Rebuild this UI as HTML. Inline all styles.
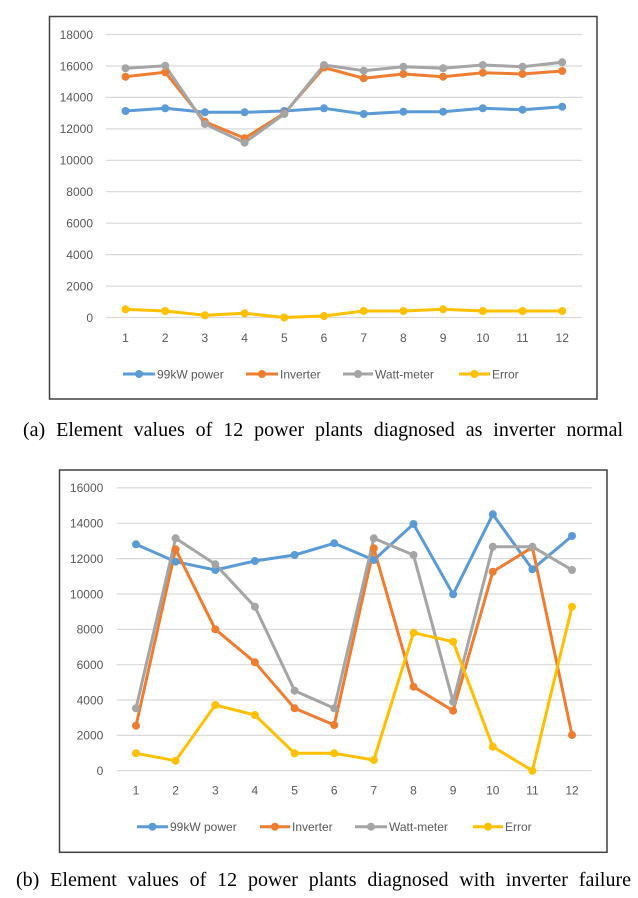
<!DOCTYPE html>
<html><head><meta charset="utf-8">
<style>
html,body{margin:0;padding:0;background:#fff;}
body{width:638px;height:898px;position:relative;overflow:hidden;}
svg{position:absolute;left:0;top:0;}
.cap{position:absolute;font-family:"Liberation Serif",serif;font-size:20px;color:#000;text-align:justify;text-align-last:justify;white-space:nowrap;line-height:22px;}
</style></head>
<body>
<svg width="638" height="898" viewBox="0 0 638 898" xmlns="http://www.w3.org/2000/svg">
<!-- Chart (a) -->
<rect x="49.5" y="16.5" width="547.5" height="382.5" fill="#fff" stroke="#404040" stroke-width="1.5"/>
<g stroke="#d9d9d9" stroke-width="1.2">
<line x1="106" x2="582" y1="317.5" y2="317.5"/>
<line x1="106" x2="582" y1="286.1" y2="286.1"/>
<line x1="106" x2="582" y1="254.6" y2="254.6"/>
<line x1="106" x2="582" y1="223.2" y2="223.2"/>
<line x1="106" x2="582" y1="191.7" y2="191.7"/>
<line x1="106" x2="582" y1="160.3" y2="160.3"/>
<line x1="106" x2="582" y1="128.9" y2="128.9"/>
<line x1="106" x2="582" y1="97.4" y2="97.4"/>
<line x1="106" x2="582" y1="66" y2="66"/>
<line x1="106" x2="582" y1="34.5" y2="34.5"/>
</g>
<g font-family="Liberation Sans, sans-serif" font-size="12" fill="#595959" text-anchor="end">
<text x="93" y="321.8">0</text>
<text x="93" y="290.4">2000</text>
<text x="93" y="258.9">4000</text>
<text x="93" y="227.5">6000</text>
<text x="93" y="196">8000</text>
<text x="93" y="164.6">10000</text>
<text x="93" y="133.2">12000</text>
<text x="93" y="101.7">14000</text>
<text x="93" y="70.3">16000</text>
<text x="93" y="38.8">18000</text>
</g>
<g font-family="Liberation Sans, sans-serif" font-size="12" fill="#595959" text-anchor="middle">
<text x="125.5" y="342">1</text><text x="165.2" y="342">2</text><text x="204.9" y="342">3</text><text x="244.6" y="342">4</text><text x="284.3" y="342">5</text><text x="324" y="342">6</text><text x="363.7" y="342">7</text><text x="403.4" y="342">8</text><text x="443.1" y="342">9</text><text x="482.8" y="342">10</text><text x="522.5" y="342">11</text><text x="562.2" y="342">12</text>
</g>
<g fill="none" stroke-width="3" stroke-linejoin="round">
<polyline stroke="#5B9BD5" points="125.5,111 165.2,108.3 204.9,112.3 244.6,112.3 284.3,111 324,108.3 363.7,114 403.4,111.7 443.1,111.7 482.8,108.3 522.5,109.7 562.2,106.7"/>
<polyline stroke="#ED7D31" points="125.5,76.7 165.2,72.3 204.9,121.7 244.6,138.3 284.3,113.3 324,67.5 363.7,78.3 403.4,74 443.1,76.7 482.8,72.7 522.5,74 562.2,71"/>
<polyline stroke="#A5A5A5" points="125.5,68.3 165.2,65.7 204.9,124 244.6,142.7 284.3,114 324,65 363.7,70.7 403.4,66.7 443.1,68.3 482.8,65 522.5,66.7 562.2,62.3"/>
<polyline stroke="#FFC000" points="125.5,309.3 165.2,311 204.9,315.3 244.6,313.3 284.3,317.5 324,316 363.7,311 403.4,311 443.1,309.3 482.8,311 522.5,311 562.2,311"/>
</g>
<g fill="#5B9BD5"><circle cx="125.5" cy="111" r="4"/><circle cx="165.2" cy="108.3" r="4"/><circle cx="204.9" cy="112.3" r="4"/><circle cx="244.6" cy="112.3" r="4"/><circle cx="284.3" cy="111" r="4"/><circle cx="324" cy="108.3" r="4"/><circle cx="363.7" cy="114" r="4"/><circle cx="403.4" cy="111.7" r="4"/><circle cx="443.1" cy="111.7" r="4"/><circle cx="482.8" cy="108.3" r="4"/><circle cx="522.5" cy="109.7" r="4"/><circle cx="562.2" cy="106.7" r="4"/></g>
<g fill="#ED7D31"><circle cx="125.5" cy="76.7" r="4"/><circle cx="165.2" cy="72.3" r="4"/><circle cx="204.9" cy="121.7" r="4"/><circle cx="244.6" cy="138.3" r="4"/><circle cx="284.3" cy="113.3" r="4"/><circle cx="324" cy="67.5" r="4"/><circle cx="363.7" cy="78.3" r="4"/><circle cx="403.4" cy="74" r="4"/><circle cx="443.1" cy="76.7" r="4"/><circle cx="482.8" cy="72.7" r="4"/><circle cx="522.5" cy="74" r="4"/><circle cx="562.2" cy="71" r="4"/></g>
<g fill="#A5A5A5"><circle cx="125.5" cy="68.3" r="4"/><circle cx="165.2" cy="65.7" r="4"/><circle cx="204.9" cy="124" r="4"/><circle cx="244.6" cy="142.7" r="4"/><circle cx="284.3" cy="114" r="4"/><circle cx="324" cy="65" r="4"/><circle cx="363.7" cy="70.7" r="4"/><circle cx="403.4" cy="66.7" r="4"/><circle cx="443.1" cy="68.3" r="4"/><circle cx="482.8" cy="65" r="4"/><circle cx="522.5" cy="66.7" r="4"/><circle cx="562.2" cy="62.3" r="4"/></g>
<g fill="#FFC000"><circle cx="125.5" cy="309.3" r="4"/><circle cx="165.2" cy="311" r="4"/><circle cx="204.9" cy="315.3" r="4"/><circle cx="244.6" cy="313.3" r="4"/><circle cx="284.3" cy="317.5" r="4"/><circle cx="324" cy="316" r="4"/><circle cx="363.7" cy="311" r="4"/><circle cx="403.4" cy="311" r="4"/><circle cx="443.1" cy="309.3" r="4"/><circle cx="482.8" cy="311" r="4"/><circle cx="522.5" cy="311" r="4"/><circle cx="562.2" cy="311" r="4"/></g>
<!-- legend a -->
<g stroke-width="3">
<line x1="123" x2="155" y1="374" y2="374" stroke="#5B9BD5"/>
<line x1="246" x2="278" y1="374" y2="374" stroke="#ED7D31"/>
<line x1="343" x2="373" y1="374" y2="374" stroke="#A5A5A5"/>
<line x1="459" x2="490" y1="374" y2="374" stroke="#FFC000"/>
</g>
<circle cx="139" cy="374" r="4" fill="#5B9BD5"/>
<circle cx="262" cy="374" r="4" fill="#ED7D31"/>
<circle cx="358" cy="374" r="4" fill="#A5A5A5"/>
<circle cx="474.5" cy="374" r="4" fill="#FFC000"/>
<g font-family="Liberation Sans, sans-serif" font-size="12" fill="#595959">
<text x="157" y="378.3">99kW power</text>
<text x="280" y="378.3">Inverter</text>
<text x="375" y="378.3">Watt-meter</text>
<text x="492" y="378.3">Error</text>
</g>

<!-- Chart (b) -->
<rect x="59.5" y="470" width="547.5" height="382.3" fill="#fff" stroke="#404040" stroke-width="1.5"/>
<g stroke="#d9d9d9" stroke-width="1.2">
<line x1="116.7" x2="591.7" y1="770.7" y2="770.7"/>
<line x1="116.7" x2="591.7" y1="735.4" y2="735.4"/>
<line x1="116.7" x2="591.7" y1="700" y2="700"/>
<line x1="116.7" x2="591.7" y1="664.7" y2="664.7"/>
<line x1="116.7" x2="591.7" y1="629.3" y2="629.3"/>
<line x1="116.7" x2="591.7" y1="594" y2="594"/>
<line x1="116.7" x2="591.7" y1="558.6" y2="558.6"/>
<line x1="116.7" x2="591.7" y1="523.3" y2="523.3"/>
<line x1="116.7" x2="591.7" y1="487.9" y2="487.9"/>
</g>
<g font-family="Liberation Sans, sans-serif" font-size="12" fill="#595959" text-anchor="end">
<text x="103.3" y="775">0</text>
<text x="103.3" y="739.7">2000</text>
<text x="103.3" y="704.3">4000</text>
<text x="103.3" y="669">6000</text>
<text x="103.3" y="633.6">8000</text>
<text x="103.3" y="598.3">10000</text>
<text x="103.3" y="562.9">12000</text>
<text x="103.3" y="527.6">14000</text>
<text x="103.3" y="492.2">16000</text>
</g>
<g font-family="Liberation Sans, sans-serif" font-size="12" fill="#595959" text-anchor="middle">
<text x="136" y="794.5">1</text><text x="175.6" y="794.5">2</text><text x="215.3" y="794.5">3</text><text x="254.9" y="794.5">4</text><text x="294.6" y="794.5">5</text><text x="334.2" y="794.5">6</text><text x="373.8" y="794.5">7</text><text x="413.5" y="794.5">8</text><text x="453.1" y="794.5">9</text><text x="492.8" y="794.5">10</text><text x="532.4" y="794.5">11</text><text x="572" y="794.5">12</text>
</g>
<g fill="none" stroke-width="3" stroke-linejoin="round">
<polyline stroke="#5B9BD5" points="136,544.3 175.6,561.7 215.3,570 254.9,561 294.6,555 334.2,543.3 373.8,560 413.5,524 453.1,594.3 492.8,514.3 532.4,569.3 572,536"/>
<polyline stroke="#ED7D31" points="136,725.7 175.6,549.3 215.3,629.3 254.9,662.3 294.6,708.3 334.2,725 373.8,548.3 413.5,686.7 453.1,710.7 492.8,571.7 532.4,547.3 572,735"/>
<polyline stroke="#A5A5A5" points="136,708.3 175.6,538.3 215.3,564.3 254.9,606.7 294.6,690.7 334.2,708.3 373.8,538.3 413.5,555 453.1,701.7 492.8,546.7 532.4,546.7 572,570"/>
<polyline stroke="#FFC000" points="136,753.3 175.6,760.7 215.3,705 254.9,715 294.6,753.3 334.2,753.3 373.8,760 413.5,632.7 453.1,641.7 492.8,746.7 532.4,770.7 572,606.7"/>
</g>
<g fill="#5B9BD5"><circle cx="136" cy="544.3" r="4"/><circle cx="175.6" cy="561.7" r="4"/><circle cx="215.3" cy="570" r="4"/><circle cx="254.9" cy="561" r="4"/><circle cx="294.6" cy="555" r="4"/><circle cx="334.2" cy="543.3" r="4"/><circle cx="373.8" cy="560" r="4"/><circle cx="413.5" cy="524" r="4"/><circle cx="453.1" cy="594.3" r="4"/><circle cx="492.8" cy="514.3" r="4"/><circle cx="532.4" cy="569.3" r="4"/><circle cx="572" cy="536" r="4"/></g>
<g fill="#ED7D31"><circle cx="136" cy="725.7" r="4"/><circle cx="175.6" cy="549.3" r="4"/><circle cx="215.3" cy="629.3" r="4"/><circle cx="254.9" cy="662.3" r="4"/><circle cx="294.6" cy="708.3" r="4"/><circle cx="334.2" cy="725" r="4"/><circle cx="373.8" cy="548.3" r="4"/><circle cx="413.5" cy="686.7" r="4"/><circle cx="453.1" cy="710.7" r="4"/><circle cx="492.8" cy="571.7" r="4"/><circle cx="532.4" cy="547.3" r="4"/><circle cx="572" cy="735" r="4"/></g>
<g fill="#A5A5A5"><circle cx="136" cy="708.3" r="4"/><circle cx="175.6" cy="538.3" r="4"/><circle cx="215.3" cy="564.3" r="4"/><circle cx="254.9" cy="606.7" r="4"/><circle cx="294.6" cy="690.7" r="4"/><circle cx="334.2" cy="708.3" r="4"/><circle cx="373.8" cy="538.3" r="4"/><circle cx="413.5" cy="555" r="4"/><circle cx="453.1" cy="701.7" r="4"/><circle cx="492.8" cy="546.7" r="4"/><circle cx="532.4" cy="546.7" r="4"/><circle cx="572" cy="570" r="4"/></g>
<g fill="#FFC000"><circle cx="136" cy="753.3" r="4"/><circle cx="175.6" cy="760.7" r="4"/><circle cx="215.3" cy="705" r="4"/><circle cx="254.9" cy="715" r="4"/><circle cx="294.6" cy="753.3" r="4"/><circle cx="334.2" cy="753.3" r="4"/><circle cx="373.8" cy="760" r="4"/><circle cx="413.5" cy="632.7" r="4"/><circle cx="453.1" cy="641.7" r="4"/><circle cx="492.8" cy="746.7" r="4"/><circle cx="532.4" cy="770.7" r="4"/><circle cx="572" cy="606.7" r="4"/></g>
<!-- legend b -->
<g stroke-width="3">
<line x1="137" x2="168" y1="826.7" y2="826.7" stroke="#5B9BD5"/>
<line x1="260" x2="290" y1="826.7" y2="826.7" stroke="#ED7D31"/>
<line x1="355" x2="387" y1="826.7" y2="826.7" stroke="#A5A5A5"/>
<line x1="473" x2="503" y1="826.7" y2="826.7" stroke="#FFC000"/>
</g>
<circle cx="152.5" cy="826.7" r="4" fill="#5B9BD5"/>
<circle cx="275" cy="826.7" r="4" fill="#ED7D31"/>
<circle cx="371" cy="826.7" r="4" fill="#A5A5A5"/>
<circle cx="488" cy="826.7" r="4" fill="#FFC000"/>
<g font-family="Liberation Sans, sans-serif" font-size="12" fill="#595959">
<text x="170" y="831">99kW power</text>
<text x="292" y="831">Inverter</text>
<text x="389" y="831">Watt-meter</text>
<text x="505" y="831">Error</text>
</g>
</svg>
<div class="cap" style="left:23px;top:418.5px;width:600px;">(a) Element values of 12 power plants diagnosed as inverter normal</div>
<div class="cap" style="left:16px;top:869.3px;width:615px;">(b) Element values of 12 power plants diagnosed with inverter failure</div>
</body></html>
